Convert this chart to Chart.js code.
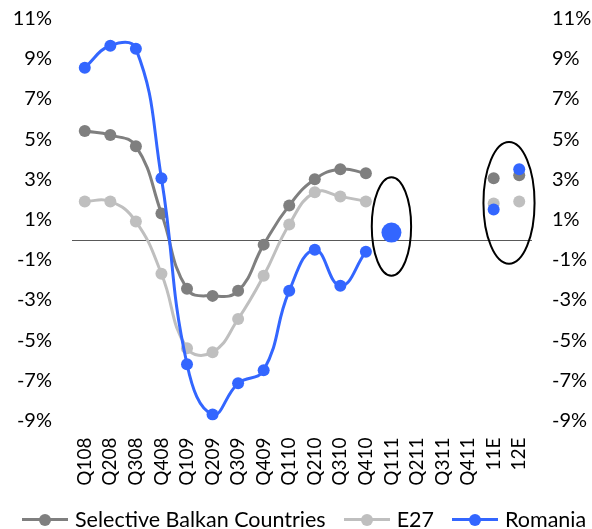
<!DOCTYPE html>
<html>
<head>
<meta charset="utf-8">
<script src="https://cdn.jsdelivr.net/npm/chart.js@4.4.1/dist/chart.umd.min.js"></script>
<style>
  html, body { margin: 0; padding: 0; background: #fff; overflow: hidden; }
  #wrap { position: relative; width: 592px; height: 529px; }
  #legend {
    position: absolute; left: 22px; top: 507px;
    display: flex; align-items: center; white-space: nowrap;
    font-family: Lato, sans-serif; font-size: 21.5px; line-height: 1.2; color: #000;
  }
  .item { display: flex; align-items: center; margin-right: 18px; }
  .sym { position: relative; width: 46px; height: 3px; margin-right: 7px; }
  .sym i { position: absolute; left: 17px; top: -4.5px; width: 12px; height: 12px; border-radius: 50%; }
</style>
</head>
<body>
<div id="wrap">
  <canvas id="growthChart"></canvas>
  <div id="legend"></div>
</div>
<script>
var quarters = ["Q108", "Q208", "Q308", "Q408", "Q109", "Q209", "Q309", "Q409",
  "Q110", "Q210", "Q310", "Q410", "Q111", "Q211", "Q311", "Q411", "11E", "12E"];

// actual quarterly growth, %
var balkan  = [5.4, 5.2, 4.65, 1.3, -2.45, -2.8, -2.55, -0.25, 1.7, 3.0, 3.5, 3.3];
var e27     = [1.9, 1.9, 0.9, -1.7, -5.4, -5.6, -3.95, -1.8, 0.75, 2.35, 2.15, 1.9];
var romania = [8.55, 9.65, 9.5, 3.05, -6.2, -8.7, -7.15, -6.5, -2.55, -0.5, -2.3, -0.6];

// Q111 flash estimate and yearly forecasts
var balkanEst  = [null, null, null, null, null, null, null, null, null, null, null, null, null, null, null, null, 3.05, 3.2];
var e27Est     = [null, null, null, null, null, null, null, null, null, null, null, null, null, null, null, null, 1.8, 1.9];
var romaniaEst = [null, null, null, null, null, null, null, null, null, null, null, null, 0.35, null, null, null, 1.5, 3.5];

var yTicks = [-9, -7, -5, -3, -1, 1, 3, 5, 7, 9, 11];

var colBalkan = "#7f7f7f";
var colE27 = "#bfbfbf";
var colRomania = "#3366ff";

function lineSet(label, data, color, order) {
  return {
    label: label, data: data, order: order,
    borderColor: color, backgroundColor: color,
    borderWidth: 3, pointRadius: 6, pointHoverRadius: 6,
    pointBorderWidth: 0, tension: 0.45, spanGaps: false
  };
}
function dotSet(data, color, order) {
  return {
    label: "", data: data, order: order, showLine: false,
    borderColor: color, backgroundColor: color, pointBorderWidth: 0,
    pointRadius: function (c) { return c.dataIndex === 12 ? 10 : 6; }
  };
}

// circles drawn around the estimate points, in data units
var rings = [
  { x: 12, dx: 0.77, yLow: -1.8, yHigh: 3.1 },
  { x: 16.6, dx: 1.0, yLow: -1.2, yHigh: 4.85 }
];

var overlay = {
  id: "overlay",
  beforeDatasetsDraw: function (chart) {
    var c = chart.ctx, a = chart.chartArea, y0 = chart.scales.y.getPixelForValue(0);
    c.save();
    c.strokeStyle = "#595959";
    c.lineWidth = 1;
    c.beginPath();
    c.moveTo(a.left, Math.round(y0) + 0.5);
    c.lineTo(a.right, Math.round(y0) + 0.5);
    c.stroke();
    c.restore();
  },
  afterDatasetsDraw: function (chart) {
    var c = chart.ctx, xs = chart.scales.x, ys = chart.scales.y;
    var step = xs.getPixelForValue(1) - xs.getPixelForValue(0);
    c.save();
    c.strokeStyle = "#000";
    c.lineWidth = 2;
    rings.forEach(function (r) {
      var cx = xs.getPixelForValue(0) + r.x * step;
      var top = ys.getPixelForValue(r.yHigh), bot = ys.getPixelForValue(r.yLow);
      c.beginPath();
      c.ellipse(cx, (top + bot) / 2, r.dx * step, (bot - top) / 2, 0, 0, Math.PI * 2);
      c.stroke();
    });
    c.restore();
  }
};

var tickFont = { family: "Lato", size: 20 };

// fixed axis widths so the plot sits between the two label columns
var yAxis = function (pos, width) {
  return {
    position: pos, min: -9, max: 11,
    afterBuildTicks: function (s) { s.ticks = yTicks.map(function (v) { return { value: v }; }); },
    afterFit: function (s) { s.width = width; s.paddingTop = 0; s.paddingBottom = 0; },
    grid: { display: false, drawTicks: false }, border: { display: false },
    ticks: { color: "#000", font: tickFont, padding: 20, callback: function (v) { return v + "%"; } }
  };
};

var chart = new Chart(document.getElementById("growthChart"), {
  type: "line",
  data: {
    labels: quarters,
    datasets: [
      lineSet("Selective Balkan Countries", balkan, colBalkan, 2),
      lineSet("E27", e27, colE27, 3),
      lineSet("Romania", romania, colRomania, 1),
      dotSet(balkanEst, colBalkan, 2),
      dotSet(e27Est, colE27, 3),
      dotSet(romaniaEst, colRomania, 0)
    ]
  },
  options: {
    responsive: true, maintainAspectRatio: false, animation: false,
    layout: { padding: { left: 0, right: 0, top: 18.5, bottom: 0 } },
    plugins: { legend: { display: false }, tooltip: { enabled: false } },
    scales: {
      x: {
        offset: true,
        afterFit: function (s) { s.height = 108.5; },
        grid: { display: false, drawTicks: false }, border: { display: false },
        ticks: { color: "#000", font: { family: "Lato", size: 19 }, autoSkip: false, minRotation: 90, maxRotation: 90, padding: 17 }
      },
      y: yAxis("left", 72),
      y2: yAxis("right", 60)
    }
  },
  plugins: [overlay]
});

// legend row for the three series
var legend = document.getElementById("legend");
chart.data.datasets.slice(0, 3).forEach(function (ds) {
  var item = document.createElement("div");
  item.className = "item";
  item.innerHTML = '<span class="sym" style="background:' + ds.borderColor + '"><i style="background:' +
    ds.borderColor + '"></i></span><span>' + ds.label + '</span>';
  legend.appendChild(item);
});
</script>
</body>
</html>
